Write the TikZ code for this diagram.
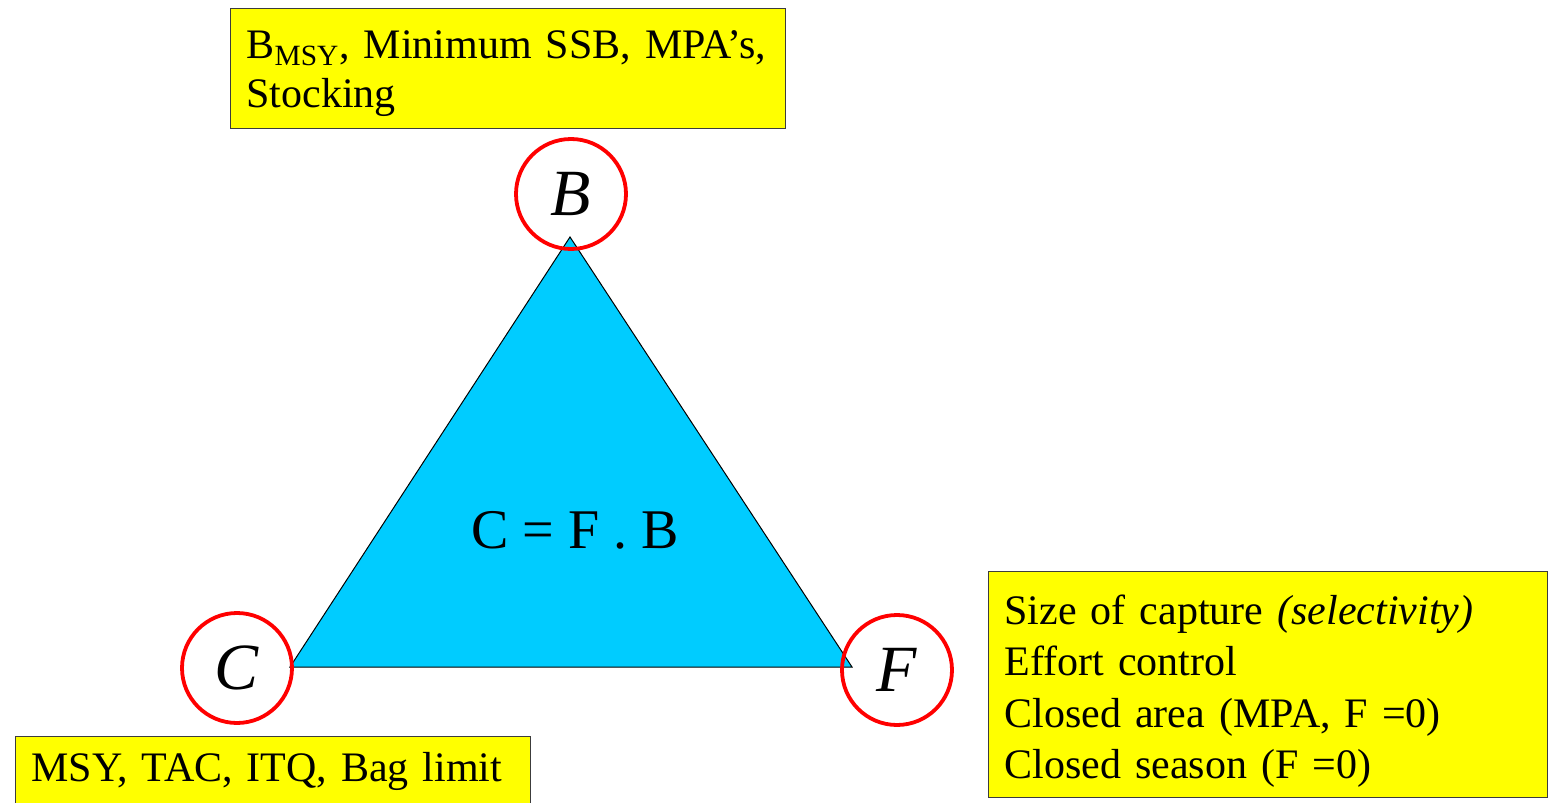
\documentclass[tikz,border=0pt]{standalone}
\usepackage{fontspec}
\setmainfont{Liberation Serif}
\usepackage{tikz}
\usetikzlibrary{positioning}
\definecolor{boxyellow}{RGB}{255, 255, 0}
\definecolor{triblue}{HTML}{00CCFF}
\definecolor{ringred}{RGB}{255, 0, 0}
\definecolor{boxedge}{RGB}{60, 60, 60}

\begin{document}
\begin{tikzpicture}[x=0.5pt, y=-0.5pt,
		ring/.style={circle, draw=ringred, line width=1.9pt, minimum size=55pt, inner sep=0pt,
			font=\fontsize{33}{33}\selectfont\itshape},
		notebox/.style={draw=boxedge, fill=boxyellow, line width=0.6pt, align=left,
			anchor=north west, inner xsep=8pt, inner ysep=0pt,
			font=\fontsize{21}{25.75}\selectfont}]
	\useasboundingbox (0,0) rectangle (1549,803);
	% triangle
	\coordinate (tB) at (570,237);
	\coordinate (tC) at (290,667);
	\coordinate (tF) at (852,667);
	\filldraw[fill=triblue, draw=black, line width=0.5pt] (tB) -- (tC) -- (tF) -- cycle;
	\node[font=\fontsize{28}{28}\selectfont] (eq) at (575,530) {C = F . B};
	% corners
	\node[ring] (B) at (571,194) {B};
	\node[ring] (C) at (237,668) {C};
	\node[ring] (F) at (897,670) {F};
	% notes
	\node[notebox, text width=261.5pt, minimum height=60pt,
		font=\fontsize{21}{24.5}\selectfont] (noteB) at (230,8)
		{\rule{0pt}{19.3pt}B\textsubscript{MSY}, Minimum SSB, MPA’s,\\ Stocking};
	\node[notebox, text width=263.5pt, minimum height=113pt] (noteF) at (988,571)
		{\rule{0pt}{21.6pt}Size of capture \textit{(selectivity)}\\ Effort control\\ Closed area (MPA, F =0)\\ Closed season (F =0)};
	\node[notebox, text width=241.5pt, minimum height=35pt] (noteC) at (15,736)
		{MSY, TAC, ITQ, Bag limit};
\end{tikzpicture}
\end{document}
